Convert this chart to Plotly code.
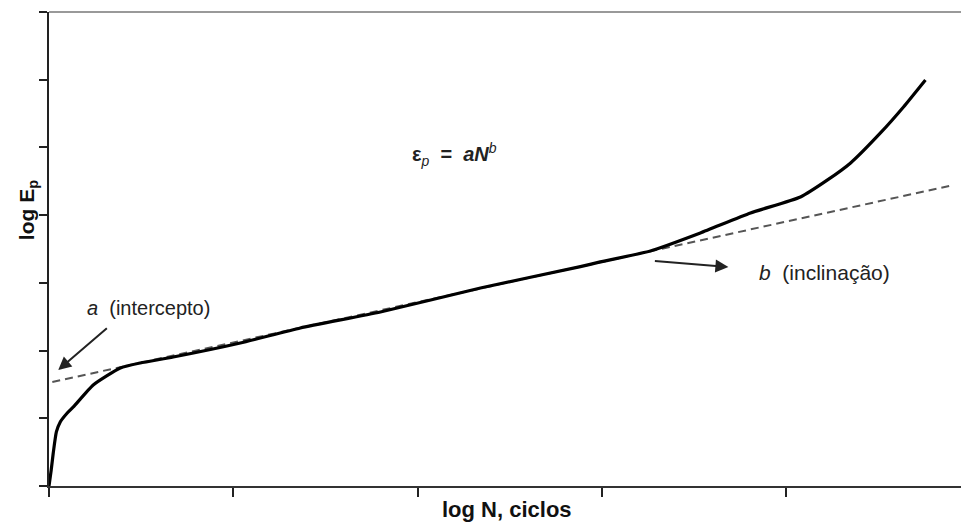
import plotly.graph_objects as go

# Curve: log E_p vs log N
curve_x = [0.0, 0.012, 0.023, 0.040, 0.061, 0.099, 0.132, 0.240, 0.387, 0.495, 0.674,
           1.038, 1.364, 1.798, 2.341, 2.883, 2.991, 3.263, 3.534, 3.806, 4.077,
           4.224, 4.349, 4.511, 4.636, 4.755]
curve_y = [0.0, 0.236, 0.487, 0.798, 0.945, 1.078, 1.167, 1.492, 1.743, 1.817, 1.905,
           2.112, 2.334, 2.570, 2.925, 3.240, 3.309, 3.471, 3.737, 4.032, 4.269,
           4.520, 4.771, 5.214, 5.598, 5.997]

# Fitted line (power law in log-log: straight line)
fit_x = [0.018, 4.885]
fit_y = [1.536, 4.431]

x_ticks = [0, 1, 2, 3, 4]
y_ticks = [0, 1, 2, 3, 4, 5, 6, 7]

FONT = "Liberation Sans, Arial, sans-serif"

fig = go.Figure()
fig.add_trace(go.Scatter(x=fit_x, y=fit_y, mode="lines",
                         line=dict(color="#555555", width=2, dash="8px,5px"),
                         hoverinfo="skip", showlegend=False))
fig.add_trace(go.Scatter(x=curve_x, y=curve_y, mode="lines",
                         line=dict(color="black", width=3.2, shape="spline", smoothing=0.5),
                         showlegend=False))

annotations = [
    # arrows
    dict(x=0.050, y=1.713, ax=0.322, ay=2.349, xref="x", yref="y", axref="x", ayref="y",
         text="", showarrow=True, arrowhead=2, arrowsize=1.3, arrowwidth=2, arrowcolor="#222222"),
    dict(x=3.686, y=3.235, ax=3.279, ay=3.323, xref="x", yref="y", axref="x", ayref="y",
         text="", showarrow=True, arrowhead=2, arrowsize=1.3, arrowwidth=2, arrowcolor="#222222"),
    # labels
    dict(x=0.197, y=2.63, xref="x", yref="y", xanchor="left", yanchor="middle",
         text="<i>a</i>  (intercepto)", showarrow=False,
         font=dict(family=FONT, size=20, color="#222222")),
    dict(x=3.843, y=3.146, xref="x", yref="y", xanchor="left", yanchor="middle",
         text="<i>b</i>  (inclinação)", showarrow=False,
         font=dict(family=FONT, size=21, color="#222222")),
    dict(x=1.960, y=4.889, xref="x", yref="y", xanchor="left", yanchor="middle",
         text="<b>ε</b><sub><i>p</i></sub> <b> =  <i>aN</i></b><sup><i>b</i></sup>", showarrow=False,
         font=dict(family=FONT, size=20, color="#222222")),
    # axis titles
    dict(x=0.502, y=0, xref="paper", yref="paper", xanchor="center", yanchor="middle",
         yshift=-23, text="<b>log N, ciclos</b>", showarrow=False,
         font=dict(family=FONT, size=22, color="#111111")),
    dict(x=0, y=0.582, xref="paper", yref="paper", xanchor="center", yanchor="middle",
         xshift=-21, textangle=-90, text="<b>log E</b><sub><b>p</b></sub>", showarrow=False,
         font=dict(family=FONT, size=21, color="#111111")),
]

fig.update_layout(
    width=961, height=522,
    margin=dict(l=49, r=0, t=12, b=36),
    paper_bgcolor="white", plot_bgcolor="white",
    annotations=annotations,
    shapes=[dict(type="line", xref="paper", yref="paper", x0=0, x1=1, y0=1, y1=1,
                 line=dict(color="#999999", width=2))],
    xaxis=dict(range=[0, 4.948], tickvals=x_ticks, showticklabels=False,
               ticks="outside", ticklen=9, tickwidth=2, tickcolor="#222222",
               showline=True, linecolor="#333333", linewidth=2,
               showgrid=False, zeroline=False),
    yaxis=dict(range=[0, 7], tickvals=y_ticks, showticklabels=False,
               ticks="outside", ticklen=8, tickwidth=1.5, tickcolor="#222222",
               showline=True, linecolor="#222222", linewidth=2,
               showgrid=False, zeroline=False),
)

fig.write_html("out.html")
